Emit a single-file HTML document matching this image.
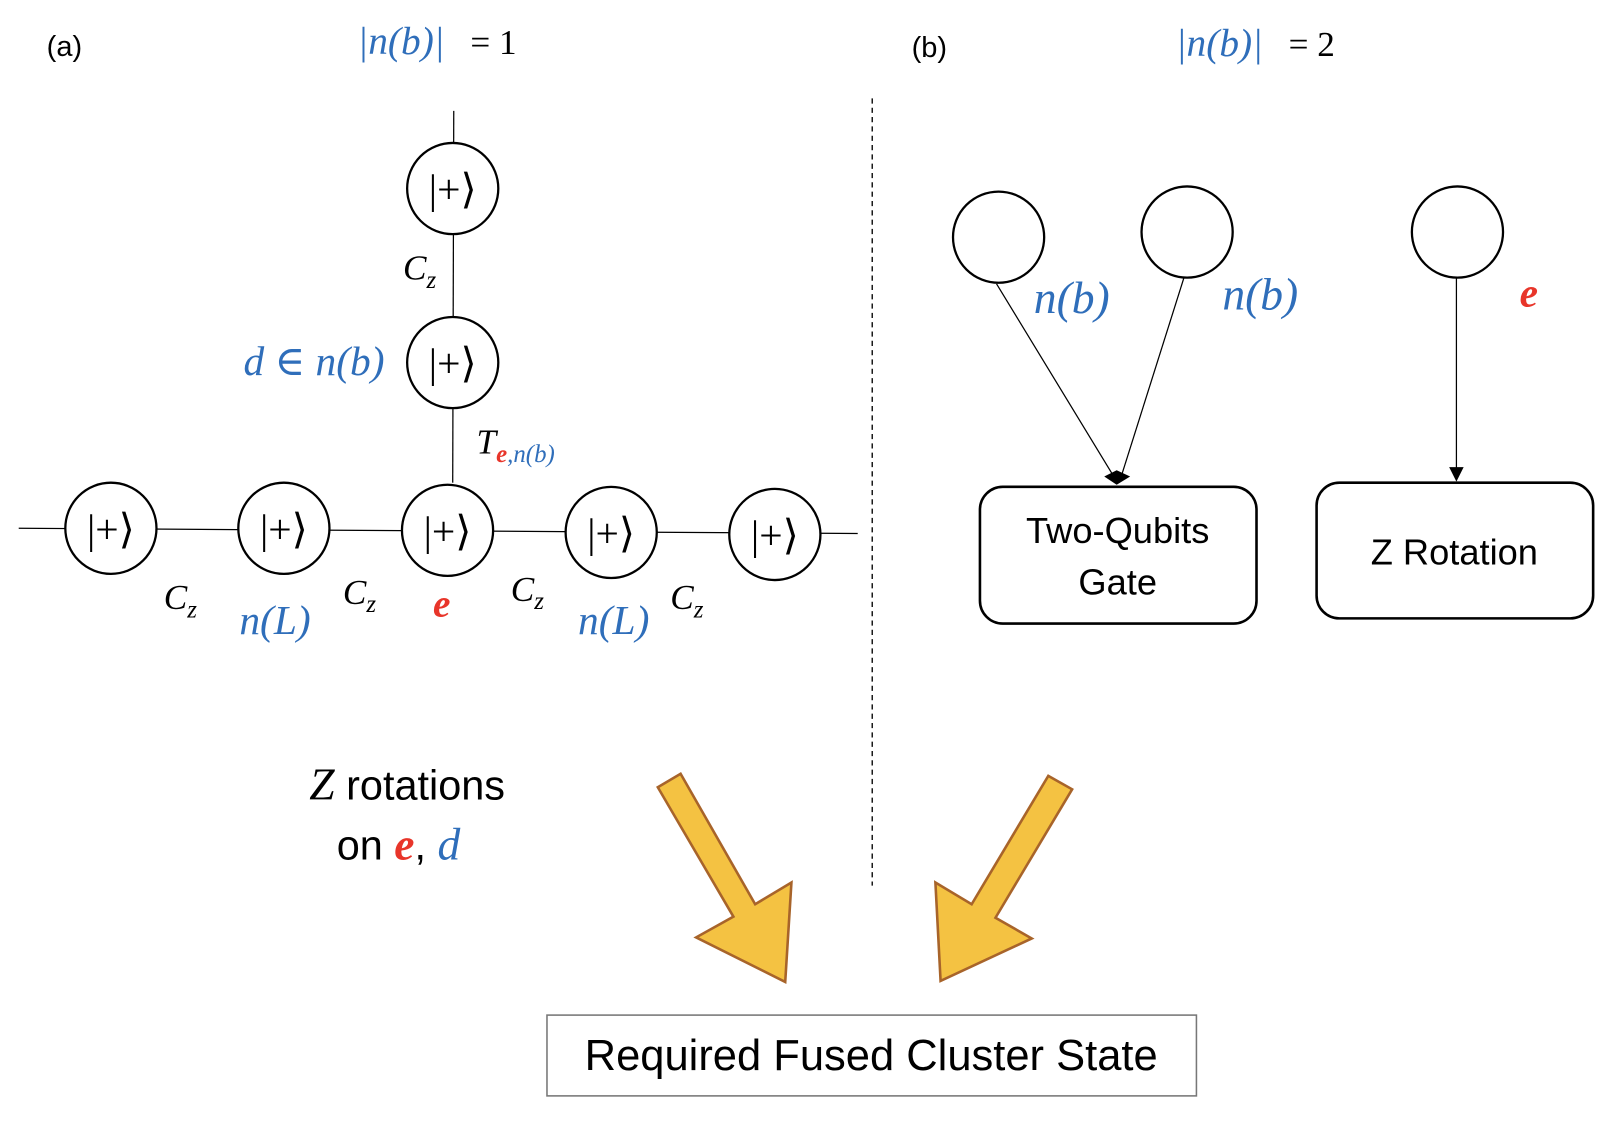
<!DOCTYPE html>
<html><head><meta charset="utf-8"><style>
html,body{margin:0;padding:0;background:#fff;}
svg{display:block;font-family:"Liberation Sans","DejaVu Sans",sans-serif;}
svg .m{font-family:"Liberation Serif","DejaVu Serif",serif;font-style:italic;}
svg .s{font-family:"Liberation Serif","DejaVu Serif",serif;}
.b{fill:#2F6EBA;}
.r{fill:#E8352A;font-weight:bold;}
</style></head><body>
<svg width="1616" height="1128" viewBox="0 0 1560 1089" xmlns="http://www.w3.org/2000/svg">
<rect width="1560" height="1089" fill="#fff"/>
<text x="45" y="54" font-size="28">(a)</text>
<text x="880" y="55" font-size="28">(b)</text>
<text x="345" y="52" font-size="38" class="m b">|n(b)|</text><text x="454" y="52" font-size="34" class="s">= 1</text>
<text x="1135" y="54" font-size="38" class="m b">|n(b)|</text><text x="1244" y="54" font-size="34" class="s">= 2</text>
<line x1="842" y1="95" x2="842" y2="855" stroke="#000" stroke-width="1.3" stroke-dasharray="5,4"/>
<g stroke="#000" stroke-width="1.2" fill="none">
<line x1="438" y1="107" x2="437" y2="466"/>
<line x1="18" y1="510" x2="828" y2="515"/>
</g>
<g stroke="#000" stroke-width="2.2" fill="#fff">
<circle cx="437" cy="182" r="44"/><circle cx="437" cy="350" r="44"/>
<circle cx="107" cy="510" r="44"/><circle cx="274" cy="510" r="44"/><circle cx="432" cy="512" r="44"/><circle cx="590" cy="514" r="44"/><circle cx="748" cy="516" r="44"/>
</g>
<g font-size="40" class="s" text-anchor="middle">
<text x="437" y="196">|+⟩</text><text x="437" y="364">|+⟩</text>
<text x="107" y="524">|+⟩</text><text x="274" y="524">|+⟩</text><text x="432" y="526">|+⟩</text><text x="590" y="528">|+⟩</text><text x="748" y="530">|+⟩</text>
</g>
<text x="389" y="270" font-size="34" class="m">C<tspan font-size="24" dy="8">z</tspan></text>
<text x="158" y="588" font-size="34" class="m">C<tspan font-size="24" dy="8">z</tspan></text>
<text x="331" y="583" font-size="34" class="m">C<tspan font-size="24" dy="8">z</tspan></text>
<text x="493" y="580" font-size="34" class="m">C<tspan font-size="24" dy="8">z</tspan></text>
<text x="647" y="588" font-size="34" class="m">C<tspan font-size="24" dy="8">z</tspan></text>
<text x="460" y="438" font-size="34" class="m">T<tspan font-size="24" dy="8" class="r">e</tspan><tspan font-size="24" class="b">,n(b)</tspan></text>
<text x="235" y="362" font-size="40" class="m b">d ∈ n(b)</text>
<text x="231" y="612" font-size="40" class="m b">n(L)</text>
<text x="558" y="612" font-size="40" class="m b">n(L)</text>
<text x="418" y="595" font-size="38" class="m r">e</text>
<text x="393" y="772" font-size="40" text-anchor="middle"><tspan class="m" font-size="44">Z</tspan> rotations</text>
<text x="325" y="830" font-size="40">on <tspan class="m r" font-size="44">e</tspan>, <tspan class="m b" font-size="44">d</tspan></text>
<!-- right -->
<g stroke="#000" stroke-width="2.2" fill="#fff">
<circle cx="964" cy="229" r="44"/><circle cx="1146" cy="224" r="44"/><circle cx="1407" cy="224" r="44"/>
</g>
<text x="998" y="302" font-size="44" class="m b">n(b)</text>
<text x="1180" y="299" font-size="44" class="m b">n(b)</text>
<text x="1467" y="296" font-size="40" class="m r">e</text>
<g stroke="#000" stroke-width="1.2">
<line x1="962" y1="274" x2="1074" y2="458"/>
<line x1="1143" y1="268" x2="1083" y2="458"/>
<line x1="1406" y1="268" x2="1406" y2="452"/>
</g>
<polygon points="1066,460 1078,454 1091,460 1078,468" fill="#000"/>
<polygon points="1399,451 1413,451 1406,465" fill="#000"/>
<rect x="946" y="470" width="267" height="132" rx="22" fill="#fff" stroke="#000" stroke-width="2.5"/>
<rect x="1271" y="466" width="267" height="131" rx="22" fill="#fff" stroke="#000" stroke-width="2.5"/>
<g font-size="35" text-anchor="middle">
<text x="1079" y="524">Two-Qubits</text><text x="1079" y="574">Gate</text>
<text x="1404" y="545">Z Rotation</text>
</g>
<g fill="#F4C242" stroke="#A8642A" stroke-width="2.5" stroke-linejoin="miter">
<polygon points="635,760 657,747 729,873 764,852 758,948 672,905 708,885"/>
<polygon points="1012,749 1035,762 961,886 996,906 908,947 903,852 938,873"/>
</g>
<rect x="528" y="980" width="627" height="78" fill="#fff" stroke="#777" stroke-width="1.5"/>
<text x="841" y="1033" font-size="42" text-anchor="middle">Required Fused Cluster State</text>
</svg>
</body></html>
